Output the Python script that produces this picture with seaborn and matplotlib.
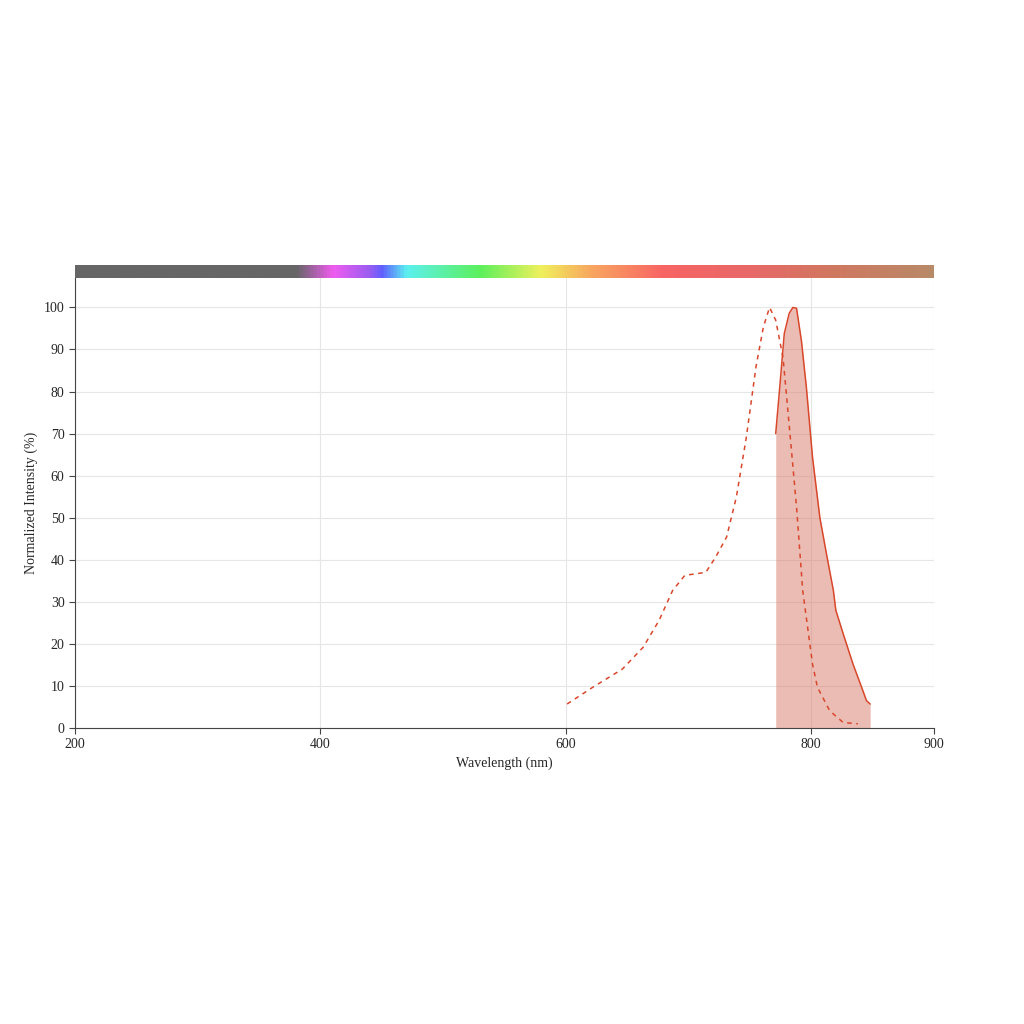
import numpy as np
import matplotlib
matplotlib.use("Agg")
import matplotlib.pyplot as plt
import seaborn as sns
from matplotlib.colors import LinearSegmentedColormap

# Excitation (dashed) and emission (filled) spectra
ex_wl = [601, 622, 646, 663, 676, 687, 697, 714, 722, 731, 739, 747, 755, 761, 766,
         771, 777, 782, 788, 793, 801, 805, 815, 826, 838]
ex_val = [5.7, 9.7, 14, 19.2, 25.6, 32.7, 36.3, 37, 40.6, 45.4, 55, 69, 86, 95.4, 100,
          97, 88, 72, 52.5, 32.7, 15.2, 9.7, 4.1, 1.3, 1.0]
em_wl = [771, 774, 778, 782, 785, 788, 792, 796, 801, 807, 812, 818, 820, 826, 834,
         841, 845, 848]
em_val = [70, 80, 93.8, 98.6, 100, 99.8, 92, 81, 64.4, 50, 42, 32.7, 28, 22.4, 15.2,
          9.7, 6.5, 5.7]

# spectrum bar colour stops (wavelength, colour)
bar_stops = [(200, "#666666"), (380, "#666666"), (410, "#f05cf0"), (440, "#9a5cf0"),
             (450, "#6060ff"), (470, "#5cf0f0"), (530, "#5cf05c"), (580, "#f0f05c"),
             (620, "#f8a860"), (680, "#f86464"), (750, "#e86868"), (820, "#d07860"),
             (900, "#b88a68")]

sns.set_style("white")
plt.rcParams['font.family'] = ['Liberation Serif', 'DejaVu Serif']

fig = plt.figure(figsize=(10.24, 10.24), dpi=100)
ax = fig.add_axes([75/1024, 1 - 728/1024, (934-75)/1024, (728-278)/1024])
bar = fig.add_axes([75/1024, 1 - 278/1024, (934-75)/1024, 13/1024])

color = "#d9472b"
sns.lineplot(x=ex_wl, y=ex_val, ax=ax, color=color, lw=1.1, linestyle=(0, (3, 3)))
sns.lineplot(x=em_wl, y=em_val, ax=ax, color=color, lw=1.1)
ax.fill_between(em_wl, em_val, color="#d97a6a", alpha=0.5, lw=0)
ax.vlines(em_wl[0], 0, em_val[0], color=color, lw=0)

ax.set_xlim(200, 900)
ax.set_ylim(0, 107)
ax.set_xticks([200, 400, 600, 800, 900])
ax.set_yticks(range(0, 101, 10))
ax.grid(True, color="#e6e6e6", lw=0.8)
for s in ["top", "right"]:
    ax.spines[s].set_visible(False)
ax.spines["left"].set_color("#444444")
ax.spines["bottom"].set_color("#444444")
ax.tick_params(labelsize=10, length=4, color="#444444", bottom=True, left=True)
ax.set_xlabel("Wavelength (nm)", fontsize=10)
ax.set_ylabel("Normalized Intensity (%)", fontsize=10)

pos = [(w - 200) / 700 for w, _ in bar_stops]
cmap = LinearSegmentedColormap.from_list("spec", list(zip(pos, [c for _, c in bar_stops])))
bar.imshow(np.linspace(0, 1, 512)[None, :], aspect="auto", cmap=cmap, extent=[200, 900, 0, 1])
bar.set_axis_off()

fig.savefig("out.png", dpi=100)
